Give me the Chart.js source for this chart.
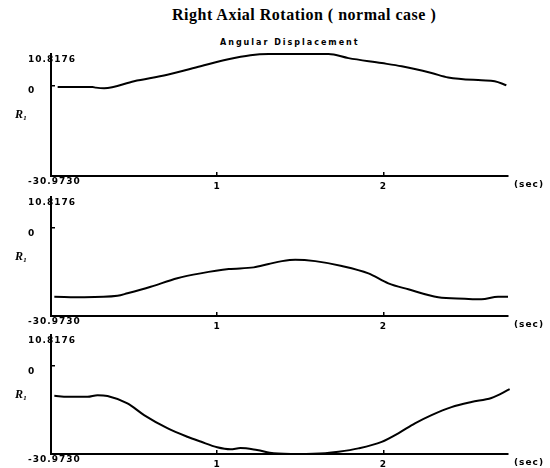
<!DOCTYPE html>
<html>
<head>
<meta charset="utf-8">
<script src="https://cdn.jsdelivr.net/npm/chart.js@4"></script>
<style>
  body { margin: 0; width: 550px; height: 468px; overflow: hidden; background: #fff; position: relative; }
  #title { position: absolute; left: 172px; top: 6px; font: bold 16px "Liberation Serif"; letter-spacing: 0.5px; color: #000; white-space: nowrap; }
  #subtitle { position: absolute; left: 220px; top: 38px; font: bold 8px "DejaVu Sans"; letter-spacing: 2px; color: #000; white-space: nowrap; }
  .panel { position: absolute; left: 0; }
</style>
</head>
<body>
<div id="title">Right Axial Rotation ( normal case )</div>
<div id="subtitle">Angular Displacement</div>
<canvas id="c1" class="panel" width="550" height="150" style="top:48px"></canvas>
<canvas id="c2" class="panel" width="550" height="147" style="top:191px"></canvas>
<canvas id="c3" class="panel" width="550" height="147" style="top:329px"></canvas>
<script>
// time in seconds, rotation in degrees
const t1 = [0.04, 0.25, 0.27, 0.32, 0.50, 0.70, 0.90, 1.06, 1.20, 1.31, 1.50, 1.67, 1.79, 1.99, 2.11, 2.29, 2.39, 2.59, 2.67, 2.74];
const r1 = [-0.5, -0.5, -0.7, -0.9, 1.5, 3.7, 6.6, 8.9, 10.4, 10.8, 10.8, 10.8, 9.4, 7.7, 6.6, 4.3, 2.8, 1.8, 1.5, 0.1];

const t2 = [0.02, 0.20, 0.40, 0.46, 0.60, 0.76, 0.90, 1.07, 1.22, 1.31, 1.39, 1.47, 1.59, 1.75, 1.91, 2.03, 2.15, 2.33, 2.49, 2.59, 2.69, 2.75];
const r2 = [-24.2, -24.4, -23.9, -23.0, -20.7, -17.7, -16.0, -14.5, -13.9, -12.7, -11.7, -11.2, -11.7, -13.4, -16.0, -19.5, -21.6, -24.4, -24.9, -25.1, -24.2, -24.2];

const t3 = [0.02, 0.10, 0.22, 0.28, 0.34, 0.46, 0.56, 0.70, 0.82, 0.90, 1.00, 1.08, 1.14, 1.24, 1.34, 1.49, 1.65, 1.73, 1.85, 1.99, 2.09, 2.19, 2.29, 2.41, 2.53, 2.65, 2.76];
const r3 = [-10.5, -10.9, -10.9, -10.3, -10.6, -13.2, -17.3, -21.9, -24.9, -26.6, -28.6, -29.3, -28.9, -29.6, -30.7, -30.97, -30.7, -30.2, -29.0, -26.7, -23.7, -20.2, -17.3, -14.5, -12.7, -11.3, -8.2];

const yTicks = [-30.973, 0, 10.8176];
const yTickLabels = ['-30.9730', '0', '10.8176'];
const xTicks = [1, 2];
const xUnit = '(sec)';
const yName = 'R\u2081';

const tickFont = { family: 'DejaVu Sans', size: 9, weight: 'bold', lineHeight: 1.2 };

const axisNotes = {
  id: 'axisNotes',
  beforeDraw(chart) { chart.ctx.letterSpacing = '1px'; },
  afterDraw(chart) {
    const ctx = chart.ctx, a = chart.chartArea;
    ctx.save();
    ctx.fillStyle = '#000';
    ctx.textBaseline = 'middle';
    ctx.font = 'bold 9px "DejaVu Sans"';
    ctx.fillText(xUnit, a.right + 6, a.bottom + 9);
    ctx.letterSpacing = '0px';
    ctx.font = 'bold italic 12px "Liberation Serif"';
    ctx.textAlign = 'center';
    ctx.fillText(yName, 21, (a.top + a.bottom) / 2);
    ctx.restore();
  }
};

function makeChart(id, times, values) {
  return new Chart(document.getElementById(id), {
    type: 'line',
    data: {
      datasets: [{
        data: times.map((t, i) => ({ x: t, y: values[i] })),
        borderColor: '#000',
        borderWidth: 2,
        pointRadius: 0,
        cubicInterpolationMode: 'monotone',
        fill: false,
        clip: 4
      }]
    },
    options: {
      responsive: false,
      animation: false,
      layout: { padding: { left: 28, right: 42, top: 6, bottom: 0 } },
      plugins: { legend: { display: false }, tooltip: { enabled: false } },
      scales: {
        x: {
          type: 'linear',
          min: 0,
          max: 2.75,
          afterBuildTicks: s => { s.ticks = xTicks.map(v => ({ value: v })); },
          afterFit: s => { s.height = 22; s.paddingLeft = 0; s.paddingRight = 0; },
          ticks: { color: '#000', font: tickFont, padding: 9, maxRotation: 0, callback: v => String(v) },
          grid: { drawOnChartArea: false, tickLength: -4, color: '#000', lineWidth: 1.5 },
          border: { color: '#000', width: 2 }
        },
        y: {
          min: yTicks[0],
          max: yTicks[2],
          afterBuildTicks: s => { s.ticks = yTicks.map(v => ({ value: v })); },
          afterFit: s => { s.width = 23; s.paddingTop = 0; s.paddingBottom = 0; },
          ticks: {
            color: '#000', font: tickFont, mirror: true, padding: -23, crossAlign: 'near',
            callback: (v, i) => ['', yTickLabels[i]]
          },
          grid: {
            drawOnChartArea: false, tickLength: -4, lineWidth: 1.5,
            color: c => (c.tick && c.tick.value === 0 ? '#000' : 'rgba(0,0,0,0)')
          },
          border: { color: '#000', width: 2 }
        }
      }
    },
    plugins: [axisNotes]
  });
}

makeChart('c1', t1, r1);
makeChart('c2', t2, r2);
makeChart('c3', t3, r3);
</script>
</body>
</html>
